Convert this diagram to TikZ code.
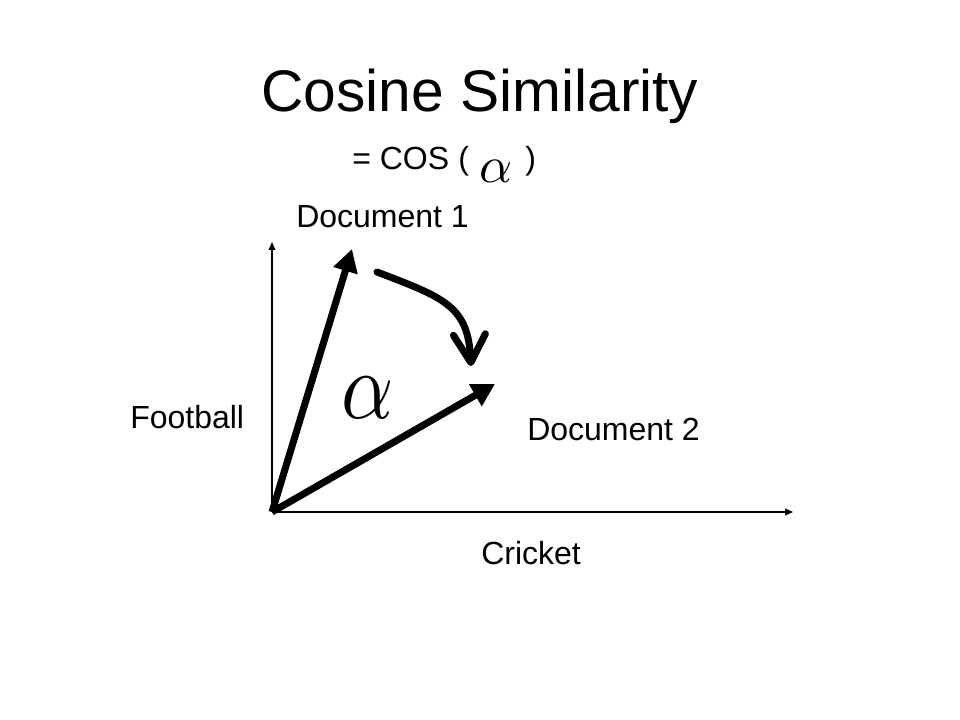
\documentclass[tikz,border=0pt]{standalone}
\usepackage{fontspec}
\setmainfont{Liberation Sans}
\usetikzlibrary{arrows.meta}
\begin{document}
\begin{tikzpicture}[x=0.75pt,y=-0.75pt,
  lbl/.style={anchor=base west,inner sep=0pt,font=\fontsize{24}{28}\selectfont},
  axisline/.style={line width=1.1pt,-{Triangle[length=6pt,width=5pt]}},
  vec/.style={line width=5.25pt,-{Triangle[length=17pt,width=18pt]}},
  turn/.style={line width=5.25pt,line cap=round,-{Straight Barb[length=21pt,width=24pt,round]}}]
\fill[white] (0,0) rectangle (960,720);
\useasboundingbox (0,0) rectangle (960,720);
% title
\node[anchor=base,inner sep=0pt,font=\fontsize{44}{50}\selectfont] (title) at (480,112) {Cosine Similarity};
% formula
\node[lbl] (eq) at (352,170) {= COS};
\node[lbl] (lp) at (458,170) {(};
\node[inner sep=0pt] (sa) at (496.5,171) {\scalebox{3.86}{$\alpha$}};
\node[lbl] (rp) at (525,170) {)};
% labels
\node[lbl] (d1lab) at (296,228) {Document 1};
\node[lbl] (d2lab) at (527,440) {Document 2};
\node[lbl] (fb) at (130,428) {Football};
\node[lbl] (cr) at (481,564) {Cricket};
% coordinates
\coordinate (O) at (272,512);
\coordinate (xend) at (793,512);
\coordinate (yend) at (272,242);
\coordinate (d1) at (352,249);
\coordinate (d2) at (495,384);
\coordinate (c1) at (377,272);
\coordinate (c2) at (471,366);
% axes
\draw[axisline] (O) -- (xend);
\draw[axisline] (O) -- (yend);
% vectors
\draw[vec] (O) -- (d1);
\draw[vec] (O) -- (d2);
% rotation arrow
\draw[turn] (c1) .. controls (445,298) and (468,306) .. (c2);
% big alpha
\node[inner sep=0pt] (ba) at (368,397.5) {\scalebox{6.1}[7.2]{$\alpha$}};
\end{tikzpicture}
\end{document}
